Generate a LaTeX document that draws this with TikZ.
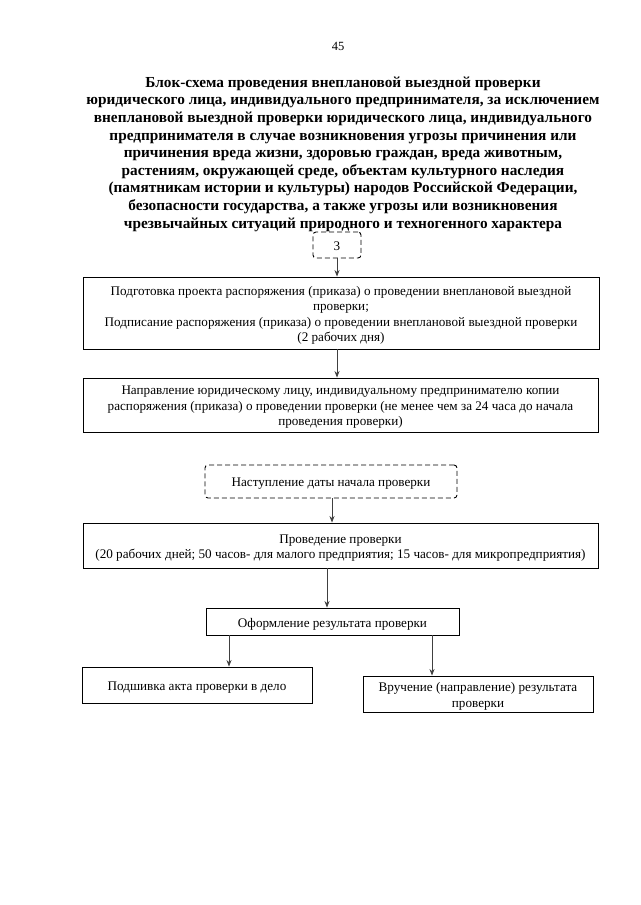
\documentclass[tikz,border=0pt]{standalone}
\usepackage{fontspec}
\setmainfont{Liberation Serif}
\usetikzlibrary{arrows.meta,calc}
\tikzset{
  box/.style={draw=black, line width=0.9pt, inner sep=0pt},
  dbox/.style={box, dashed, dash pattern=on 5pt off 3pt, rounded corners=3pt},
  txt/.style={inner sep=0pt, align=center, yshift=-2.5pt,
    font=\fontsize{13.15}{15.5}\selectfont},
  arr/.style={draw=black!75, line width=0.8pt, -{Stealth[length=6.5pt,width=5pt]}},
  title/.style={align=center, font=\fontsize{15.3}{17.6}\selectfont\bfseries},
}
\begin{document}
\begin{tikzpicture}[x=1pt,y=-1pt]
\useasboundingbox (0,0) rectangle (640,905);
\fill[white] (0,0) rectangle (640,905);
\node[font=\fontsize{12.5}{14}\selectfont] (page) at (338,46) {45};
\node[title] (ttl) at (343,154) {Блок-схема проведения внеплановой выездной проверки\\
юридического лица, индивидуального предпринимателя, за исключением\\
внеплановой выездной проверки юридического лица, индивидуального\\
предпринимателя в случае возникновения угрозы причинения или\\
причинения вреда жизни, здоровью граждан, вреда животным,\\
растениям, окружающей среде, объектам культурного наследия\\
(памятникам истории и культуры) народов Российской Федерации,\\
безопасности государства, а также угрозы или возникновения\\
чрезвычайных ситуаций природного и техногенного характера};
% boxes
\node[dbox, minimum width=48, minimum height=26] (b3) at (337,245) {};
\node[box, minimum width=516, minimum height=72] (b1) at (341,313) {};
\node[box, minimum width=515, minimum height=54] (b2) at (340.5,405) {};
\node[dbox, minimum width=252, minimum height=33] (bd) at (331,481.5) {};
\node[box, minimum width=515, minimum height=45] (b4) at (340.5,545.5) {};
\node[box, minimum width=253, minimum height=27] (b5) at (332.5,621.5) {};
\node[box, minimum width=230, minimum height=36] (b6) at (197,685) {};
\node[box, minimum width=230, minimum height=36] (b7) at (478,694) {};
% texts
\node[txt, yshift=1.5pt] (t3) at (b3.center) {3};
\node[txt] (t1) at (b1.center)
  {Подготовка проекта распоряжения (приказа) о проведении внеплановой выездной\\
   проверки;\\
   Подписание распоряжения (приказа) о проведении внеплановой выездной проверки\\
   (2 рабочих дня)};
\node[txt] (t2) at (b2.center)
  {Направление юридическому лицу, индивидуальному предпринимателю копии\\
   распоряжения (приказа) о проведении проверки (не менее чем за 24 часа до начала\\
   проведения проверки)};
\node[txt] (td) at (bd.center) {Наступление даты начала проверки};
\node[txt] (t4) at (b4.center)
  {Проведение проверки\\
   (20 рабочих дней; 50 часов- для малого предприятия; 15 часов- для микропредприятия)};
\node[txt] (t5) at (b5.center) {Оформление результата проверки};
\node[txt] (t6) at (b6.center) {Подшивка акта проверки в дело};
\node[txt] (t7) at (b7.center) {Вручение (направление) результата\\ проверки};
% connectors
\draw[arr] (b3.south) -- (b3.south |- b1.north);
\draw[arr] (b1.south -| b3.south) -- (b3.south |- b2.north);
\draw[arr] ([xshift=1pt]bd.south) -- ([xshift=1pt]bd.south |- b4.north);
\draw[arr] ([xshift=-5.5pt]b5.north |- b4.south) -- ([xshift=-5.5pt]b5.north);
\draw[arr] ([xshift=-103.5pt]b5.south) -- ([xshift=-103.5pt]b5.south |- b6.north);
\draw[arr] ([xshift=99.5pt]b5.south) -- ([xshift=99.5pt]b5.south |- b7.north);
\end{tikzpicture}
\end{document}
